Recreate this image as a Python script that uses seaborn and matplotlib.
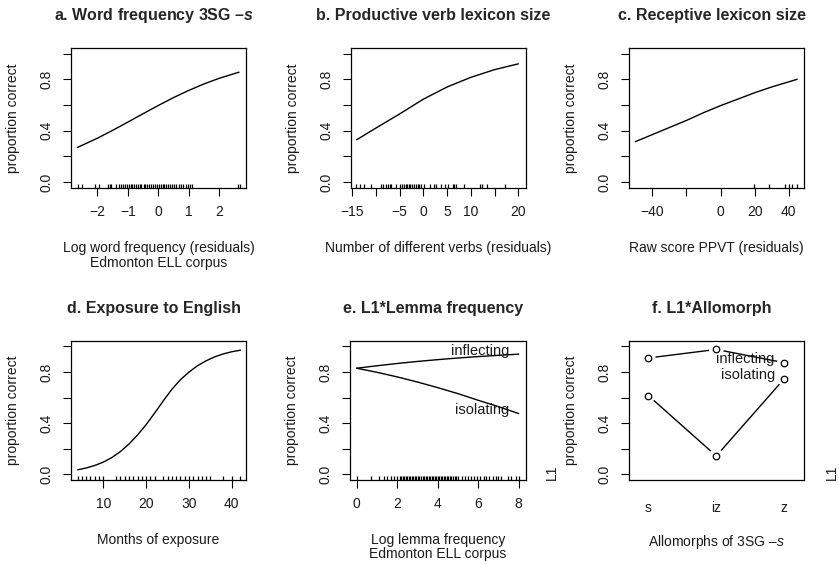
import matplotlib
matplotlib.use("Agg")
import matplotlib.pyplot as plt
import seaborn as sns

# -----------------------------
# Datos
# -----------------------------
# a. Word frequency
a_x = [-2.66, -2.0, -1.5, -1.0, -0.5, 0.0, 0.5, 1.0, 1.5, 2.0, 2.66]
a_y = [0.27, 0.342, 0.403, 0.467, 0.532, 0.596, 0.657, 0.713, 0.763, 0.807, 0.855]
a_rug = [-2.65, -2.5, -2.08, -1.95, -1.65, -1.6, -1.55, -1.38, -1.3, -1.22, -1.15,
         -1.1, -1.02, -0.95, -0.9, -0.85, -0.78, -0.72, -0.66, -0.6, -0.55, -0.48,
         -0.42, -0.37, -0.3, -0.25, -0.18, -0.12, -0.05, 0.02, 0.08, 0.15, 0.2,
         0.26, 0.33, 0.4, 0.45, 0.52, 0.6, 0.68, 0.75, 0.82, 0.9, 0.97, 1.05,
         1.12, 2.63, 2.68]

# b. Productive verb lexicon
b_x = [-14, -10, -5, 0, 5, 10, 15, 20]
b_y = [0.33, 0.42, 0.53, 0.645, 0.74, 0.815, 0.875, 0.92]
b_rug = [-14.2, -13.3, -12.5, -11.05, -8.9, -8.4, -7.9, -7.5, -7.0, -6.7, -5.65,
         -4.9, -4.5, -4.1, -3.7, -3.4, -3.0, -2.7, -2.3, -1.9, -1.6, -1.2, -0.9,
         -0.5, 0.2, 1.4, 2.3, 2.7, 3.8, 4.55, 5.1, 6.2, 6.5, 6.8, 8.6, 11.9,
         12.3, 13.3, 17.2]

# c. Receptive lexicon
c_x = [-50, -40, -30, -20, -10, 0, 10, 20, 30, 40, 45]
c_y = [0.315, 0.37, 0.425, 0.48, 0.54, 0.595, 0.645, 0.695, 0.74, 0.78, 0.80]
c_rug = [19.5, 28.5, 38, 40, 42, 45]

# d. Exposure to English
d_x = [4, 6, 8, 10, 12, 14, 16, 18, 20, 22, 24, 26, 28, 30, 32, 34, 36, 38, 40, 42]
d_y = [0.035, 0.049, 0.069, 0.095, 0.131, 0.178, 0.237, 0.308, 0.389, 0.48,
       0.575, 0.665, 0.74, 0.8, 0.85, 0.888, 0.919, 0.942, 0.959, 0.971]
d_rug = [4, 5, 6, 7, 8, 9, 10, 13, 14, 15, 16, 17, 18, 19, 20, 21, 22,
         24, 25, 26, 27, 28, 29, 30, 31, 32, 33, 34, 35, 38, 40, 42]

# e. L1 * lemma frequency
e_x = [0, 1, 2, 3, 4, 5, 6, 7, 8]
e_inflecting = [0.83, 0.849, 0.867, 0.883, 0.897, 0.91, 0.921, 0.931, 0.94]
e_isolating = [0.83, 0.798, 0.762, 0.722, 0.678, 0.631, 0.579, 0.529, 0.475]
e_rug = [0, 0.7, 1.1, 1.33, 1.5, 1.69, 1.85, 2.0, 2.12, 2.2, 2.28, 2.35, 2.42,
         2.5, 2.57, 2.65, 2.72, 2.8, 2.88, 2.95, 3.02, 3.1, 3.17, 3.25, 3.33,
         3.4, 3.47, 3.55, 3.62, 3.7, 3.78, 3.85, 3.92, 4.0, 4.07, 4.15, 4.22,
         4.3, 4.37, 4.45, 4.52, 4.6, 4.68, 4.75, 4.83, 4.9, 4.98, 5.2, 5.35,
         5.5, 5.62, 5.8, 5.95, 6.1, 6.28, 6.4, 6.55, 6.72, 6.9, 7.0, 7.13,
         7.46, 7.6, 7.87, 8.0]

# f. L1 * allomorph
f_cats = ["s", "iz", "z"]
f_inflecting = [0.91, 0.977, 0.873]
f_isolating = [0.616, 0.143, 0.748]

# -----------------------------
# Estilo
# -----------------------------
sns.set_style("ticks")
plt.rcParams["font.family"] = ["Liberation Sans", "DejaVu Sans"]
plt.rcParams["mathtext.fontset"] = "custom"
plt.rcParams["mathtext.rm"] = "Liberation Sans"
plt.rcParams["mathtext.it"] = "Liberation Sans:italic:bold"
plt.rcParams["mathtext.sf"] = "Liberation Sans:italic"
plt.rcParams["axes.unicode_minus"] = True

fig = plt.figure(figsize=(8.39, 5.64), dpi=100)
W, H = 839, 564


def make_ax(left_px, top_px, w_px=175, h_px=140):
    return fig.add_axes([left_px / W, 1 - (top_px + h_px) / H, w_px / W, h_px / H])


def style_ax(ax, title, xlabel, xlim, xticks, xticklabels):
    ax.set_xlim(*xlim)
    ax.set_ylim(-0.045, 1.043)
    ax.set_xticks(xticks)
    ax.set_xticklabels(xticklabels)
    ax.set_yticks([0, 0.2, 0.4, 0.6, 0.8, 1.0])
    ax.set_yticklabels(["0.0", "", "0.4", "", "0.8", ""], rotation=90, va="center")
    ax.tick_params(direction="out", length=5.8, width=0.8, color="black",
                   labelsize=10, labelcolor="#1a1a1a", pad=6.5)
    for sp in ax.spines.values():
        sp.set_visible(True)
        sp.set_linewidth(0.9)
        sp.set_color("black")
    ax.text(0.472, 1.2, title, transform=ax.transAxes, ha="center",
            va="baseline", fontsize=11.5, fontweight="bold")
    ax.set_xlabel(xlabel, fontsize=10, color="#1a1a1a", linespacing=1.05)
    ax.xaxis.set_label_coords(0.5, -0.38)
    ax.set_ylabel("proportion correct", fontsize=10, color="#1a1a1a")
    ax.yaxis.set_label_coords(-0.33, 0.5)
    ax.yaxis.label.set_va("center")


line_kw = dict(color="black", linewidth=1.0)
rug_kw = dict(height=0.03, color="black", linewidth=0.9)

# a
ax = make_ax(71, 48)
sns.lineplot(x=a_x, y=a_y, ax=ax, **line_kw)
sns.rugplot(x=a_rug, ax=ax, **rug_kw)
style_ax(ax, "a. Word frequency 3SG –$\\mathit{s}$",
         "Log word frequency (residuals)\nEdmonton ELL corpus",
         (-2.87, 2.89), [-2, -1, 0, 1, 2], ["−2", "−1", "0", "1", "2"])

# b
ax = make_ax(351, 48)
sns.lineplot(x=b_x, y=b_y, ax=ax, **line_kw)
sns.rugplot(x=b_rug, ax=ax, **rug_kw)
style_ax(ax, "b. Productive verb lexicon size",
         "Number of different verbs (residuals)",
         (-15.2, 21.6), [-15, -10, -5, 0, 5, 10, 15, 20],
         ["−15", "", "−5", "0", "5", "10", "", "20"])

# c
ax = make_ax(629, 48)
sns.lineplot(x=c_x, y=c_y, ax=ax, **line_kw)
sns.rugplot(x=c_rug, ax=ax, **rug_kw)
style_ax(ax, "c. Receptive lexicon size", "Raw score PPVT (residuals)",
         (-53.7, 49.0), [-40, -20, 0, 20, 40], ["−40", "", "0", "20", "40"])

# d
ax = make_ax(71, 341, h_px=139)
sns.lineplot(x=d_x, y=d_y, ax=ax, **line_kw)
sns.rugplot(x=d_rug, ax=ax, **rug_kw)
style_ax(ax, "d. Exposure to English", "Months of exposure",
         (2.45, 43.3), [10, 20, 30, 40], ["10", "20", "30", "40"])

# e
ax = make_ax(350, 341, w_px=176, h_px=139)
sns.lineplot(x=e_x, y=e_inflecting, ax=ax, **line_kw)
sns.lineplot(x=e_x, y=e_isolating, ax=ax, **line_kw)
sns.rugplot(x=e_rug, ax=ax, **rug_kw)
ax.text(6.09, 0.961, "inflecting", ha="center", va="center", fontsize=10.5, color="#1a1a1a")
ax.text(6.17, 0.506, "isolating", ha="center", va="center", fontsize=10.5, color="#1a1a1a")
style_ax(ax, "e. L1*Lemma frequency", "Log lemma frequency\nEdmonton ELL corpus",
         (-0.33, 8.36), [0, 2, 4, 6, 8], ["0", "2", "4", "6", "8"])

# f
ax = make_ax(629, 341, h_px=139)
f_pos = [1, 2, 3]
for vals in (f_inflecting, f_isolating):
    sns.lineplot(x=f_pos, y=vals, ax=ax, **line_kw)
    sns.scatterplot(x=f_pos, y=vals, ax=ax, s=110, color="white", edgecolor="none", zorder=3)
    sns.scatterplot(x=f_pos, y=vals, ax=ax, s=22, facecolor="white",
                    edgecolor="black", linewidth=0.9, zorder=4)
ax.text(2.42, 0.899, "inflecting", ha="center", va="center", fontsize=10.5,
        color="#1a1a1a", zorder=5)
ax.text(2.47, 0.78, "isolating", ha="center", va="center", fontsize=10.5,
        color="#1a1a1a", zorder=5)
style_ax(ax, "f. L1*Allomorph", "Allomorphs of 3SG –$\\mathsf{s}$",
         (0.716, 3.29), f_pos, f_cats)
ax.tick_params(axis="x", length=0, pad=15)

# etiquetas L1 a la derecha
fig.text(552 / W, 1 - 472 / H, "L1", rotation=90, ha="center", va="center",
         fontsize=10, color="#1a1a1a")
fig.text(832 / W, 1 - 472 / H, "L1", rotation=90, ha="center", va="center",
         fontsize=10, color="#1a1a1a")

fig.savefig("out.png", dpi=100)
plt.close(fig)
